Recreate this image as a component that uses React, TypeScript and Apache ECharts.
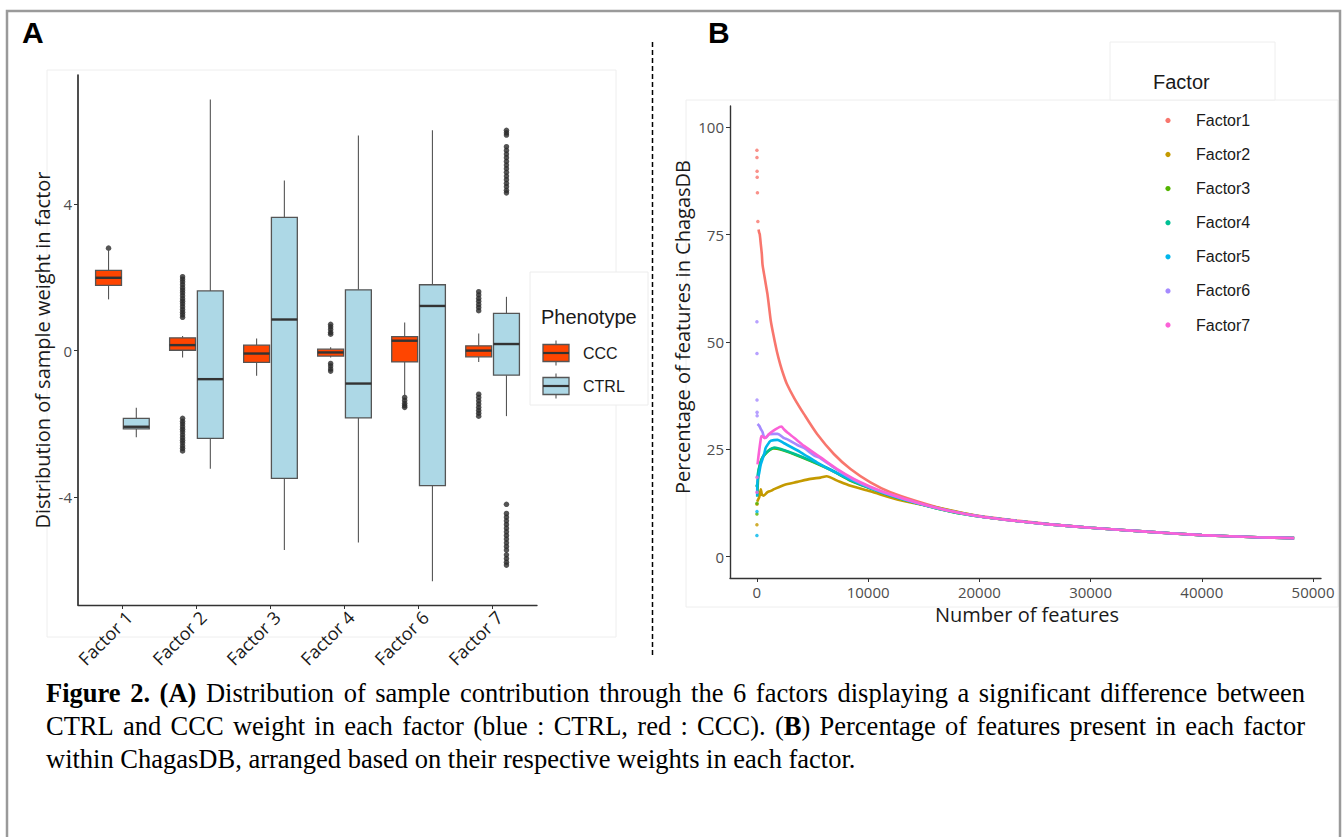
import React, { useEffect, useRef } from "react";
import * as echarts from "echarts";

// ---------------- Panel A data ----------------
const factorLabels = ["Factor 1", "Factor 2", "Factor 3", "Factor 4", "Factor 6", "Factor 7"];
const phenotypes = ["CCC", "CTRL"];
// [lower whisker, q1, median, q3, upper whisker]
const cccStats = [
  [1.4, 1.78, 1.99, 2.19, 2.73],
  [-0.19, 0.01, 0.15, 0.35, 0.4],
  [-0.69, -0.32, -0.08, 0.15, 0.33],
  [-0.19, -0.15, -0.05, 0.04, 0.09],
  [-1.22, -0.31, 0.27, 0.38, 0.77],
  [-0.31, -0.17, 0.0, 0.13, 0.47],
];
const ctrlStats = [
  [-2.37, -2.14, -2.08, -1.85, -1.56],
  [-3.23, -2.4, -0.78, 1.63, 6.86],
  [-5.45, -3.49, 0.85, 3.64, 4.65],
  [-5.24, -1.84, -0.9, 1.66, 5.88],
  [-6.3, -3.69, 1.22, 1.8, 6.02],
  [-1.79, -0.67, 0.18, 1.02, 1.47],
];
const cccOutliers = [
  [2.8],
  [2.02, 1.95, 1.88, 1.8, 1.72, 1.65, 1.58, 1.5, 1.42, 1.35, 1.28, 1.2, 1.12, 1.05, 0.98, 0.91,
    -1.85, -1.93, -2.0, -2.08, -2.15, -2.22, -2.3, -2.38, -2.45, -2.52, -2.6, -2.67, -2.74],
  [],
  [0.72, 0.65, 0.58, 0.5, 0.45, -0.35, -0.42, -0.5, -0.56],
  [-1.28, -1.36, -1.44, -1.5, -1.55],
  [1.61, 1.52, 1.43, 1.35, 1.26, 1.18, 1.09, -1.19, -1.28, -1.37, -1.46, -1.55, -1.63, -1.71, -1.79],
];
const ctrlOutliers = [
  [],
  [],
  [],
  [],
  [],
  [6.02, 5.95, 5.89, 5.57, 5.47, 5.37, 5.27, 5.17, 5.07, 4.97, 4.87, 4.77, 4.67, 4.57, 4.48, 4.38, 4.31,
    -4.2, -4.45, -4.55, -4.65, -4.75, -4.85, -4.95, -5.05, -5.15, -5.25, -5.35, -5.45, -5.58, -5.68, -5.78, -5.86],
];
const aYTicks = [-4, 0, 4];

// ---------------- Panel B data ----------------
const factorNames = ["Factor1", "Factor2", "Factor3", "Factor4", "Factor5", "Factor6", "Factor7"];
const bXTicks = [0, 10000, 20000, 30000, 40000, 50000];
const bYTicks = [0, 25, 50, 75, 100];

const f1Early = [[5, 94.7], [10, 93.0], [20, 89.8], [30, 88.4], [50, 84.8], [90, 78.1]];
const f1Curve = [[150, 76.2], [206, 75.5], [260, 75.1], [358, 72.7], [448, 70.4], [507, 68.1], [656, 65.7],
  [806, 63.4], [955, 61.1], [1104, 58.0], [1253, 54.9], [1500, 51.5], [1800, 47.8], [2100, 44.8], [2400, 42.3],
  [2700, 40.2], [3343, 37.0], [4237, 33.2], [5430, 28.5], [6920, 23.9], [8415, 20.4], [10206, 17.3],
  [12000, 15.0], [14385, 12.9], [17370, 10.7], [20350, 9.3], [23340, 8.4], [26320, 7.6], [30000, 6.7],
  [35000, 5.8], [40000, 5.0], [45000, 4.5], [48300, 4.3]];

const f2Early = [[5, 7.4], [10, 12.2]];
const f2Curve = [[30, 12.8], [100, 13.2], [209, 13.8], [358, 15.7], [450, 14.5], [600, 14.2], [956, 15.0],
  [1253, 15.3], [1552, 15.7], [2447, 16.7], [3640, 17.4], [4834, 18.1], [5730, 18.4], [6270, 18.7],
  [7220, 17.7], [8415, 16.5], [10200, 15.2], [12900, 13.1], [15880, 11.6], [20350, 9.2], [23340, 8.3],
  [26320, 7.5], [30000, 6.7], [35000, 5.8], [40000, 5.0], [45000, 4.5], [48300, 4.3]];

const f3Early = [[5, 9.9], [10, 12.4]];
const f3Curve = [[40, 14.0], [150, 19.5], [400, 22.5], [900, 24.3], [1500, 25.2], [2200, 24.9], [3400, 23.8],
  [4900, 22.2], [6690, 20.1], [8490, 17.6], [10200, 15.9], [12000, 14.2], [14385, 12.4], [17370, 10.5],
  [20350, 9.2], [23340, 8.3], [26320, 7.5], [30000, 6.7], [35000, 5.8], [40000, 5.0], [45000, 4.5], [48300, 4.3]];

const f4Early = [[5, 16.5]];
const f4Curve = [[50, 18.5], [179, 20.5], [507, 23.1], [1014, 24.6], [1611, 25.4], [2208, 25.0], [3400, 23.9],
  [4900, 22.3], [6690, 20.2], [8490, 17.7], [10200, 15.9], [12000, 14.2], [14385, 12.4], [17370, 10.5],
  [20350, 9.2], [23340, 8.3], [26320, 7.5], [30000, 6.7], [35000, 5.8], [40000, 5.0], [45000, 4.5], [48300, 4.3]];

const f5Early = [[5, 4.9], [10, 10.5]];
const f5Curve = [[30, 14.0], [60, 17.7], [209, 19.5], [358, 21.5], [656, 23.9], [806, 25.4], [1104, 26.6],
  [1253, 27.0], [1850, 27.2], [2447, 26.4], [3940, 24.3], [5430, 21.9], [6920, 19.8], [8500, 17.9],
  [10200, 16.0], [12000, 14.3], [14385, 12.5], [17370, 10.6], [20350, 9.2], [23340, 8.3], [26320, 7.5],
  [30000, 6.7], [35000, 5.8], [40000, 5.0], [45000, 4.5], [48300, 4.3]];

const f6Early = [[5, 54.7], [10, 47.3], [15, 36.5], [20, 33.6], [25, 32.8]];
const f6Curve = [[60, 30.9], [209, 30.5], [358, 29.7], [507, 29.0], [656, 27.8], [800, 27.7], [1104, 28.5],
  [1552, 28.6], [1850, 28.6], [2447, 27.6], [2745, 27.3], [3640, 26.0], [4237, 25.3], [5133, 23.6],
  [5730, 22.9], [7225, 20.2], [8715, 17.9], [10200, 16.1], [12000, 14.4], [14385, 12.5], [17370, 10.6],
  [20350, 9.2], [23340, 8.3], [26320, 7.5], [30000, 6.7], [35000, 5.8], [40000, 5.0], [45000, 4.5], [48300, 4.3]];

const f7Early = [[5, 15.0], [10, 18.5]];
const f7Curve = [[60, 21.5], [150, 23.5], [330, 27.0], [420, 28.1], [716, 27.6], [1000, 28.3], [1253, 28.9],
  [1700, 29.7], [2200, 30.3], [2450, 29.6], [2745, 28.9], [3340, 27.7], [4237, 25.8], [5730, 23.1],
  [7220, 20.4], [8715, 18.1], [10200, 16.3], [12000, 14.5], [14385, 12.6], [17370, 10.6], [20350, 9.2],
  [23340, 8.3], [26320, 7.5], [30000, 6.7], [35000, 5.8], [40000, 5.0], [45000, 4.5], [48300, 4.3]];

const bEarly = [f1Early, f2Early, f3Early, f4Early, f5Early, f6Early, f7Early];
const bCurves = [f1Curve, f2Curve, f3Curve, f4Curve, f5Curve, f6Curve, f7Curve];

// ---------------- Caption ----------------
const captionLines = [
  "**Figure 2. (A)** Distribution of sample contribution through the 6 factors displaying a significant difference between",
  "CTRL and CCC weight in each factor (blue : CTRL, red : CCC). (**B**) Percentage of features present in each factor",
  "within ChagasDB, arranged based on their respective weights in each factor.",
];

// ---------------- styles ----------------
const factorColors = ["#F8766D", "#C49A00", "#53B400", "#00C094", "#00B6EB", "#A58AFF", "#FB61D7"];
const phenoColors = ["#FF4500", "#ADD8E6"];
const SANS = "'Open Sans', 'Noto Sans', sans-serif";
const ARIAL = "'Liberation Sans', Arial, sans-serif";
const SERIF = "'Liberation Serif', 'Times New Roman', serif";
const BOX_W = 0.35;
const DODGE = 0.1875;
const LABEL_SHIFT = 0.09;

function boxRenderer(fill: string) {
  return (params: any, api: any) => {
    const x = api.value(0);
    const pMin = api.coord([x, api.value(1)]);
    const pQ1 = api.coord([x, api.value(2)]);
    const pMed = api.coord([x, api.value(3)]);
    const pQ3 = api.coord([x, api.value(4)]);
    const pMax = api.coord([x, api.value(5)]);
    const w = api.size([BOX_W, 0])[0];
    const cx = pMed[0];
    return {
      type: "group",
      children: [
        { type: "line", shape: { x1: cx, y1: pQ3[1], x2: cx, y2: pMax[1] }, style: { stroke: "#555", lineWidth: 1.1 } },
        { type: "line", shape: { x1: cx, y1: pQ1[1], x2: cx, y2: pMin[1] }, style: { stroke: "#555", lineWidth: 1.1 } },
        {
          type: "rect",
          shape: { x: cx - w / 2, y: pQ3[1], width: w, height: pQ1[1] - pQ3[1] },
          style: { fill, stroke: "#555", lineWidth: 1.3 },
        },
        {
          type: "line",
          shape: { x1: cx - w / 2, y1: pMed[1], x2: cx + w / 2, y2: pMed[1] },
          style: { stroke: "#333", lineWidth: 2.4 },
        },
      ],
    };
  };
}

function txt(text: string, x: number, y: number, size: number, family: string, opts: any = {}) {
  return {
    type: "text",
    x,
    y,
    rotation: opts.rotation || 0,
    silent: true,
    style: {
      text,
      fontSize: size,
      fontFamily: family,
      fontWeight: opts.bold ? "bold" : "normal",
      fill: opts.color || "#1a1a1a",
      align: opts.align || "left",
      textAlign: opts.align || "left",
      verticalAlign: "middle",
      textVerticalAlign: "middle",
    },
  };
}

function parseWords(line: string) {
  const parts = line.split("**");
  const words: { text: string; bold: boolean }[][] = [];
  let cur: { text: string; bold: boolean }[] = [];
  parts.forEach((p, idx) => {
    const bold = idx % 2 === 1;
    const pieces = p.split(" ");
    pieces.forEach((piece, j) => {
      if (j > 0) {
        if (cur.length) words.push(cur);
        cur = [];
      }
      if (piece.length) cur.push({ text: piece, bold });
    });
  });
  if (cur.length) words.push(cur);
  return words;
}

function buildCaption(): any[] {
  const size = 26.5;
  const left = 46;
  const right = 1305;
  const ys = [692.5, 725.8, 759];
  const canvas = document.createElement("canvas");
  const ctx = canvas.getContext("2d") as CanvasRenderingContext2D;
  const measure = (t: string, bold: boolean) => {
    ctx.font = `${bold ? "bold " : ""}${size}px ${SERIF}`;
    return ctx.measureText(t).width;
  };
  const els: any[] = [];
  captionLines.forEach((line, li) => {
    const words = parseWords(line);
    const widths = words.map((w) => w.reduce((s, r) => s + measure(r.text, r.bold), 0));
    const total = widths.reduce((a, b) => a + b, 0);
    const justify = li < captionLines.length - 1;
    const gap = justify ? (right - left - total) / (words.length - 1) : measure(" ", false);
    let x = left;
    words.forEach((w, wi) => {
      let rx = x;
      w.forEach((r) => {
        els.push(txt(r.text, rx, ys[li], size, SERIF, { bold: r.bold, color: "#000" }));
        rx += measure(r.text, r.bold);
      });
      x += widths[wi] + gap;
    });
  });
  return els;
}

export default function App() {
  const ref = useRef<HTMLDivElement>(null);
  useEffect(() => {
    if (!ref.current) return;
    const chart = echarts.init(ref.current, null, { renderer: "svg" });

    const boxSeries = [cccStats, ctrlStats].map((stats, k) => ({
      type: "custom",
      name: phenotypes[k],
      xAxisIndex: 0,
      yAxisIndex: 0,
      renderItem: boxRenderer(phenoColors[k]),
      encode: { x: 0, y: [1, 2, 3, 4, 5] },
      data: stats.map((s, i) => [i + 1 + (k === 0 ? -DODGE : DODGE), ...s]),
      z: 2,
    }));
    const outlierSeries = [cccOutliers, ctrlOutliers].map((outs, k) => ({
      type: "scatter",
      xAxisIndex: 0,
      yAxisIndex: 0,
      symbolSize: 5.5,
      itemStyle: { color: "#2b2b2b" },
      data: outs.flatMap((vals, i) => vals.map((v) => [i + 1 + (k === 0 ? -DODGE : DODGE), v])),
      z: 3,
    }));

    const lineSeries: any[] = [];
    bCurves.forEach((curve, i) => {
      lineSeries.push({
        type: "scatter",
        name: factorNames[i] + " start",
        xAxisIndex: 1,
        yAxisIndex: 1,
        symbolSize: 3.5,
        itemStyle: { color: factorColors[i], opacity: 0.8 },
        data: bEarly[i],
        z: 2 + i,
      });
      lineSeries.push({
        type: "line",
        name: factorNames[i],
        xAxisIndex: 1,
        yAxisIndex: 1,
        showSymbol: false,
        smooth: 0.25,
        lineStyle: { color: factorColors[i], width: 2.6 },
        data: curve,
        z: 2 + i,
      });
    });

    const axisLineStyle = { color: "#333", width: 1.4 };
    const graphic: any[] = [
      // outer frame
      { type: "rect", shape: { x: 7, y: 11, width: 1333, height: 900 }, style: { fill: "none", stroke: "#9a9a9a", lineWidth: 2.5 }, silent: true },
      // faint panel image borders
      { type: "rect", shape: { x: 47, y: 70, width: 569, height: 567 }, style: { fill: "none", stroke: "#eeeeee", lineWidth: 1 }, silent: true, z: -1 },
      { type: "rect", shape: { x: 686, y: 100, width: 652, height: 507 }, style: { fill: "none", stroke: "#eeeeee", lineWidth: 1 }, silent: true, z: -1 },
      { type: "rect", shape: { x: 1110, y: 42, width: 165, height: 58 }, style: { fill: "#fff", stroke: "#eeeeee", lineWidth: 1 }, silent: true, z: -1 },
      // dashed divider
      { type: "line", shape: { x1: 652.5, y1: 42, x2: 652.5, y2: 655 }, style: { stroke: "#000", lineWidth: 1.5, lineDash: [5, 3] }, silent: true },
      // panel letters
      txt("A", 22, 32, 30, ARIAL, { bold: true, color: "#000" }),
      txt("B", 708, 32, 30, ARIAL, { bold: true, color: "#000" }),
      // axis titles
      txt("Distribution of sample weight in factor", 42, 350, 20, SANS, { align: "center", rotation: Math.PI / 2, color: "#1a1a1a" }),
      txt("Percentage of features in ChagasDB", 682, 327, 20, SANS, { align: "center", rotation: Math.PI / 2, color: "#1a1a1a" }),
      txt("Number of features", 1027, 614, 20, SANS, { align: "center", color: "#1a1a1a" }),
      // legend A
      { type: "rect", shape: { x: 530, y: 272, width: 118, height: 133 }, style: { fill: "#fff", stroke: "#ececec", lineWidth: 1 }, silent: true, z: -1 },
      txt("Phenotype", 541, 317, 20, ARIAL),
    ];
    const legendAY = [353, 386];
    phenotypes.forEach((p, k) => {
      const cy = legendAY[k];
      graphic.push(
        { type: "line", shape: { x1: 556, y1: cy - 12.5, x2: 556, y2: cy + 12.5 }, style: { stroke: "#555", lineWidth: 1.1 }, silent: true },
        { type: "rect", shape: { x: 543, y: cy - 8.5, width: 26, height: 17 }, style: { fill: phenoColors[k], stroke: "#555", lineWidth: 1.3 }, silent: true },
        { type: "line", shape: { x1: 543, y1: cy, x2: 569, y2: cy }, style: { stroke: "#333", lineWidth: 2.2 }, silent: true },
        txt(p, 583, cy, 16, ARIAL)
      );
    });
    // legend B
    graphic.push(txt("Factor", 1153, 82, 20, ARIAL));
    factorNames.forEach((n, i) => {
      const cy = 120.4 + 34.1 * i;
      graphic.push(
        { type: "circle", shape: { cx: 1168, cy, r: 2.6 }, style: { fill: factorColors[i] }, silent: true },
        txt(n, 1196, cy, 16, ARIAL)
      );
    });
    graphic.push(...buildCaption());

    const catPositions = factorLabels.map((_, i) => i + 1);
    chart.setOption({
      animation: false,
      backgroundColor: "#fff",
      grid: [
        { left: 78, top: 75, width: 459, height: 530 },
        { left: 730, top: 106, width: 591, height: 472 },
      ],
      xAxis: [
        {
          type: "value",
          gridIndex: 0,
          min: 0.4,
          max: 6.6,
          axisLine: { show: true, onZero: false, lineStyle: axisLineStyle },
          axisTick: { show: true, customValues: catPositions, length: 4, lineStyle: { color: "#333" } },
          axisLabel: {
            customValues: catPositions.map((p) => p + LABEL_SHIFT),
            formatter: (v: number) => factorLabels[Math.round(v) - 1] || "",
            rotate: 45,
            fontSize: 18,
            fontFamily: SANS,
            color: "#1a1a1a",
            margin: 9,
          },
          splitLine: { show: false },
        },
        {
          type: "value",
          gridIndex: 1,
          min: -2415,
          max: 50715,
          axisLine: { show: true, onZero: false, lineStyle: axisLineStyle },
          axisTick: { show: true, customValues: bXTicks, length: 4, lineStyle: { color: "#333" } },
          axisLabel: {
            customValues: bXTicks,
            formatter: (v: number) => String(v),
            fontSize: 15,
            fontFamily: SANS,
            color: "#4d4d4d",
            margin: 6,
          },
          splitLine: { show: false },
        },
      ],
      yAxis: [
        {
          type: "value",
          gridIndex: 0,
          min: -6.95,
          max: 7.53,
          axisLine: { show: true, onZero: false, lineStyle: { color: "#222", width: 1.6 } },
          axisTick: { show: true, customValues: aYTicks, length: 4, lineStyle: { color: "#333" } },
          axisLabel: { customValues: aYTicks, fontSize: 15, fontFamily: SANS, color: "#4d4d4d", margin: 6 },
          splitLine: { show: false },
        },
        {
          type: "value",
          gridIndex: 1,
          min: -5,
          max: 105,
          axisLine: { show: true, onZero: false, lineStyle: axisLineStyle },
          axisTick: { show: true, customValues: bYTicks, length: 4, lineStyle: { color: "#333" } },
          axisLabel: { customValues: bYTicks, fontSize: 15, fontFamily: SANS, color: "#4d4d4d", margin: 6 },
          splitLine: { show: false },
        },
      ],
      series: [...boxSeries, ...outlierSeries, ...lineSeries],
      graphic,
    });
    return () => chart.dispose();
  }, []);
  return (
    <div
      ref={ref}
      style={{ position: "fixed", left: 0, top: 0, width: 1344, height: 837, background: "#fff" }}
    />
  );
}
